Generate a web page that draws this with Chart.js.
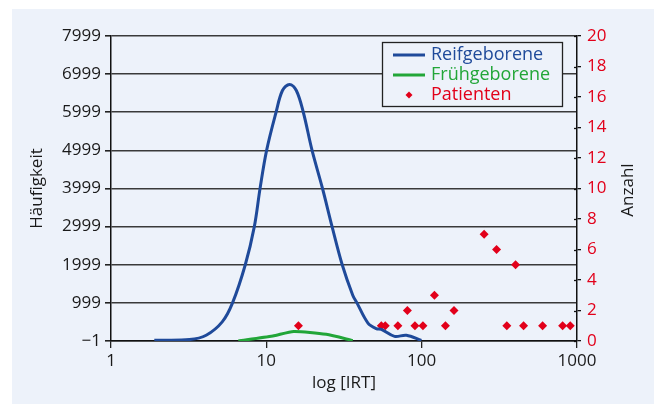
<!DOCTYPE html>
<html>
<head>
<meta charset="utf-8">
<script src="https://cdn.jsdelivr.net/npm/chart.js@4.4.1/dist/chart.umd.min.js"></script>
<style>
    html, body { margin: 0; padding: 0; background: #fff; }
    #wrap { width: 654px; height: 404px; }
</style>
</head>
<body>
<div id="wrap"><canvas id="chart" width="654" height="404"></canvas></div>
<script>
// Data
const reifX = [1.9, 3.2, 4.1, 5.2, 6.06, 7.32, 8.37, 9.11, 10.04, 11.55, 12.7, 14.1, 15.6, 17.3, 19.7, 23.0, 26.5, 30.8, 36.0, 38.3, 45.1, 51.0, 55.0, 66.9, 79.7, 99.6];
const reifY = [20, 36, 150, 500, 999, 1999, 2999, 3999, 4999, 5999, 6570, 6730, 6570, 5999, 4999, 3999, 2999, 1999, 1200, 999, 470, 325, 305, 120, 150, 15];

const fruehX = [6.6, 11.0, 15.0, 24.3, 36.0];
const fruehY = [0, 130, 250, 175, 10];

const patX = [16.1, 55.0, 58.3, 70.3, 80.9, 90.5, 101.9, 120.8, 142.2, 161.5, 252.4, 303.4, 353.4, 402.4, 453, 600.5, 808, 905];
const patY = [1, 1, 1, 1, 2, 1, 1, 3, 1, 2, 7, 6, 1, 5, 1, 1, 1, 1];

const xTicks = [1, 10, 100, 1000];
const yTicks = [-1, 999, 1999, 2999, 3999, 4999, 5999, 6999, 7999];
const y2Ticks = [0, 2, 4, 6, 8, 10, 12, 14, 16, 18, 20];

const BG = '#edf2fa';
const BLUE = '#1f4a9a';
const GREEN = '#22a638';
const RED = '#e2001a';
const TEXT = '#1a1a1a';

const pts = (xs, ys) => xs.map((x, i) => ({ x: x, y: ys[i] }));

Chart.defaults.font.family = '"Open Sans", sans-serif';
Chart.defaults.font.size = 17;
Chart.defaults.color = TEXT;

// panel background
const panelBg = {
    id: 'panelBg',
    beforeDraw(chart) {
        const ctx = chart.ctx;
        ctx.save();
        ctx.fillStyle = '#fff';
        ctx.fillRect(0, 0, chart.width, chart.height);
        ctx.fillStyle = BG;
        ctx.fillRect(12, 9, chart.width - 12, chart.height - 9);
        ctx.restore();
    }
};

// legend box, right axis title, inner ticks of right axis
const extras = {
    id: 'extras',
    afterDraw(chart) {
        const ctx = chart.ctx;
        const area = chart.chartArea;
        ctx.save();

        const y2 = chart.scales.y2;
        ctx.strokeStyle = '#111';
        ctx.lineWidth = 1.3;
        y2Ticks.forEach(v => {
            const py = Math.round(y2.getPixelForValue(v)) + 0.5;
            ctx.beginPath();
            ctx.moveTo(area.right - 3, py);
            ctx.lineTo(area.right, py);
            ctx.stroke();
        });

        ctx.translate(628, 190);
        ctx.rotate(-Math.PI / 2);
        ctx.fillStyle = TEXT;
        ctx.font = '17px "Open Sans", sans-serif';
        ctx.textAlign = 'center';
        ctx.textBaseline = 'middle';
        ctx.fillText('Anzahl', 0, 0);
        ctx.setTransform(1, 0, 0, 1, 0, 0);

        const x0 = 382, y0 = 42, w = 180, h = 64;
        ctx.fillStyle = BG;
        ctx.fillRect(x0, y0, w, h);
        ctx.strokeStyle = '#222';
        ctx.lineWidth = 1.3;
        ctx.strokeRect(x0 + 0.5, y0 + 0.5, w, h);
        ctx.font = '18px "Open Sans", sans-serif';
        ctx.textAlign = 'left';
        ctx.textBaseline = 'middle';
        chart.data.datasets.forEach((ds, i) => {
            const cy = y0 + 13 + i * 20;
            const col = ds.borderColor || ds.backgroundColor;
            if (ds.showLine) {
                ctx.strokeStyle = col;
                ctx.lineWidth = 3;
                ctx.beginPath();
                ctx.moveTo(393, cy);
                ctx.lineTo(425, cy);
                ctx.stroke();
            } else {
                ctx.fillStyle = ds.backgroundColor;
                ctx.beginPath();
                ctx.moveTo(409, cy - 3.5);
                ctx.lineTo(412.5, cy);
                ctx.lineTo(409, cy + 3.5);
                ctx.lineTo(405.5, cy);
                ctx.closePath();
                ctx.fill();
            }
            ctx.fillStyle = col;
            ctx.fillText(ds.label, 431, cy);
        });
        ctx.restore();
    }
};

new Chart(document.getElementById('chart'), {
    type: 'scatter',
    data: {
        datasets: [
            {
                label: 'Reifgeborene',
                data: pts(reifX, reifY),
                showLine: true,
                borderColor: BLUE,
                borderWidth: 3,
                pointRadius: 0,
                tension: 0.35,
                yAxisID: 'y'
            },
            {
                label: 'Frühgeborene',
                data: pts(fruehX, fruehY),
                showLine: true,
                borderColor: GREEN,
                borderWidth: 3,
                pointRadius: 0,
                tension: 0.2,
                yAxisID: 'y'
            },
            {
                label: 'Patienten',
                data: pts(patX, patY),
                showLine: false,
                backgroundColor: RED,
                borderWidth: 0,
                pointStyle: 'rectRot',
                pointRadius: 4.5,
                yAxisID: 'y2'
            }
        ]
    },
    options: {
        responsive: false,
        animation: false,
        devicePixelRatio: 1,
        layout: { padding: { top: 36, left: 0, right: 0, bottom: 0 } },
        plugins: {
            legend: { display: false },
            tooltip: { enabled: false }
        },
        scales: {
            x: {
                type: 'logarithmic',
                position: 'bottom',
                min: 1,
                max: 1000,
                afterBuildTicks: s => { s.ticks = xTicks.map(v => ({ value: v })); },
                afterFit: s => { s.height = 63; },
                grid: { drawOnChartArea: false, tickLength: 7, color: '#222', lineWidth: 1.3 },
                border: { color: '#111', width: 1.5 },
                ticks: { padding: 3, color: TEXT, maxRotation: 0, callback: v => String(v) },
                title: { display: true, text: 'log [IRT]', color: TEXT, padding: { top: 0, bottom: 11 } }
            },
            y: {
                position: 'left',
                min: -1,
                max: 7999,
                afterBuildTicks: s => { s.ticks = yTicks.map(v => ({ value: v })); },
                afterFit: s => { s.width = 111; },
                grid: { color: '#3a3a3a', lineWidth: 1.6, tickLength: 6, tickColor: '#222' },
                border: { color: '#111', width: 1.5 },
                ticks: { padding: 4, color: TEXT, callback: v => v < 0 ? '\u2212' + Math.abs(v) : String(v) },
                title: { display: true, text: 'Häufigkeit', color: TEXT, padding: { top: 27, bottom: 0 } }
            },
            y2: {
                position: 'right',
                min: 0,
                max: 20,
                afterBuildTicks: s => { s.ticks = y2Ticks.map(v => ({ value: v })); },
                afterFit: s => { s.width = 77; },
                grid: { drawOnChartArea: false, tickLength: 4, color: '#111', lineWidth: 1.3 },
                border: { color: '#111', width: 1.5 },
                ticks: { padding: 6, color: RED }
            }
        }
    },
    plugins: [panelBg, extras]
});
</script>
</body>
</html>
